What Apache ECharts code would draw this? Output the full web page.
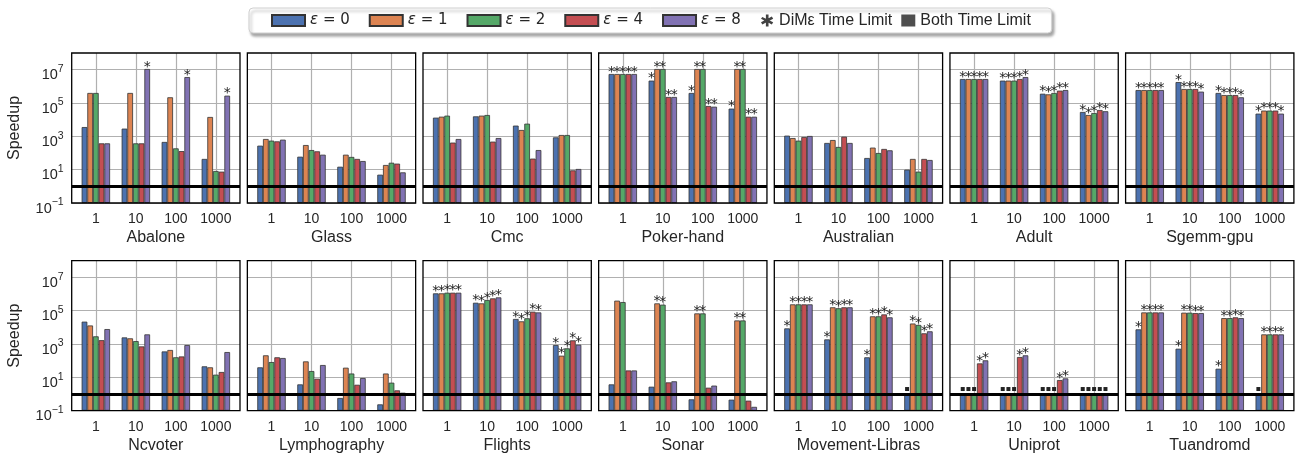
<!DOCTYPE html>
<html><head><meta charset="utf-8">
<script src="https://cdn.jsdelivr.net/npm/echarts@6/dist/echarts.min.js"></script>
<style>html,body{margin:0;padding:0;background:#fff}#c{width:1302px;height:460px}</style>
</head><body><div id="c"></div>
<script>
const categories = ['1', '10', '100', '1000'];
const seriesNames = ['ε = 0', 'ε = 1', 'ε = 2', 'ε = 4', 'ε = 8'];
const seriesColors = ['#4c72b0', '#dd8452', '#55a868', '#c44e52', '#8172b3'];
const datasetNames = ['Abalone', 'Glass', 'Cmc', 'Poker-hand', 'Australian', 'Adult', 'Sgemm-gpu',
  'Ncvoter', 'Lymphography', 'Flights', 'Sonar', 'Movement-Libras', 'Uniprot', 'Tuandromd'];
const yTickExponents = [-1, 1, 3, 5, 7];
const markerNames = ['DiMε Time Limit', 'Both Time Limit'];

// values: one row per epsilon (0,1,2,4,8), one column per category (1,10,100,1000)
const abalone = [[3600, 2900, 460, 44], [4.0e5, 4.0e5, 2.2e5, 1.45e4], [4.0e5, 380, 190, 8.3], [380, 380, 130, 7.6], [380, 1.1e7, 3.6e6, 2.75e5]];
const glass = [[275, 60, 15, 5.0], [690, 300, 79, 19], [550, 150, 58, 26], [500, 126, 44, 23], [630, 79, 33, 6.9]];
const cmc = [[13200, 15800, 4400, 870], [15100, 17400, 2400, 1200], [17400, 19000, 5750, 1200], [420, 480, 46, 9.1], [690, 790, 150, 11]];
const pokerHand = [[5.5e6, 2.2e6, 4.0e5, 4.6e4], [5.5e6, 1.1e7, 1.1e7, 1.1e7], [5.5e6, 1.1e7, 1.1e7, 1.1e7], [5.5e6, 2.3e5, 6.6e4, 1.5e4], [5.5e6, 2.3e5, 6.0e4, 1.5e4]];
const australian = [[1100, 400, 50, 10], [790, 600, 210, 44], [550, 230, 100, 7.6], [910, 950, 175, 44], [1050, 400, 145, 38]];
const adult = [[2.75e6, 2.2e6, 3.6e5, 2.9e4], [2.75e6, 2.2e6, 3.3e5, 1.9e4], [2.75e6, 2.2e6, 4.0e5, 2.5e4], [2.75e6, 2.75e6, 5.5e5, 3.8e4], [2.75e6, 3.6e6, 6.0e5, 3.2e4]];
const sgemmGpu = [[6.0e5, 1.8e6, 4.0e5, 2.3e4], [6.0e5, 6.9e5, 3.0e5, 3.5e4], [6.0e5, 6.9e5, 3.0e5, 3.5e4], [6.0e5, 6.9e5, 3.0e5, 3.5e4], [6.0e5, 4.8e5, 2.2e5, 2.3e4]];
const ncvoter = [[2.2e4, 2500, 360, 46], [1.3e4, 2200, 440, 40], [2900, 1500, 160, 14.5], [1700, 720, 180, 21], [7900, 3800, 870, 330]];
const lymphography = [[40, 3.8, 0.58, 0.24], [210, 91, 38, 17], [83, 24, 17, 4.8], [160, 8.3, 3.6, 1.66], [145, 55, 9.1, 1.2]];
const flights = [[1.1e6, 3.0e5, 3.2e4, 870], [1.1e6, 2.75e5, 2.3e4, 200], [1.2e6, 4.4e5, 3.5e4, 550], [1.2e6, 5.5e5, 8.7e4, 1660], [1.2e6, 6.3e5, 7.9e4, 910]];
const sonar = [[3.8, 2.75, 0.48, 0.46], [4.0e5, 2.75e5, 6.9e4, 2.6e4], [3.3e5, 2.3e5, 6.9e4, 2.6e4], [26, 5.0, 2.4, 0.4], [26, 5.8, 3.2, 0.17]];
const movementLibras = [[8700, 1900, 160, 1], [2.4e5, 1.6e5, 4.6e4, 1.7e4], [2.4e5, 1.4e5, 4.6e4, 1.4e4], [2.4e5, 1.6e5, 6.0e4, 4400], [2.4e5, 1.6e5, 4.0e4, 5800]];
const uniprot = [[1, 1, 1, 1], [1, 1, 1, 1], [1, 1, 1, 1], [69, 166, 6.9, 1], [105, 210, 8.7, 1]];
const tuandromd = [[7600, 525, 33, 1], [7.9e4, 7.6e4, 3.6e4, 3800], [7.9e4, 7.6e4, 3.6e4, 3800], [7.9e4, 7.2e4, 4.0e4, 3800], [7.9e4, 7.2e4, 3.6e4, 3800]];

// markers: '*' = DiMε time limit, 'b' = both time limit, '-' = none
const abaloneMarks = ['----', '----', '----', '----', '-***'];
const glassMarks = ['----', '----', '----', '----', '----'];
const cmcMarks = ['----', '----', '----', '----', '----'];
const pokerHandMarks = ['****', '****', '****', '****', '****'];
const australianMarks = ['----', '----', '----', '----', '----'];
const adultMarks = ['****', '****', '****', '****', '****'];
const sgemmGpuMarks = ['****', '****', '****', '****', '****'];
const ncvoterMarks = ['----', '----', '----', '----', '----'];
const lymphographyMarks = ['----', '----', '----', '----', '----'];
const flightsMarks = ['****', '****', '****', '****', '****'];
const sonarMarks = ['----', '-***', '-***', '----', '----'];
const movementLibrasMarks = ['***b', '****', '****', '****', '****'];
const uniprotMarks = ['bbbb', 'bbbb', 'bbbb', '***b', '***b'];
const tuandromdMarks = ['***b', '****', '****', '****', '****'];

const panelValues = [abalone, glass, cmc, pokerHand, australian, adult, sgemmGpu, ncvoter, lymphography, flights, sonar, movementLibras, uniprot, tuandromd];
const panelMarks = [abaloneMarks, glassMarks, cmcMarks, pokerHandMarks, australianMarks, adultMarks, sgemmGpuMarks, ncvoterMarks, lymphographyMarks, flightsMarks, sonarMarks, movementLibrasMarks, uniprotMarks, tuandromdMarks];

// ---- layout ----
const LEFT0 = 71.7, PITCH = 175.65, PANEL_W = 168.3, PANEL_H = 150, ROW_TOP = [53, 260.7], INNER_PAD = 4.15;
const TXT = '#262626';
const STAR_PATH = 'path://M39,0L61,0L61,100L39,100Z M9.3,21.3L99.7,63.7L88.7,82.7L-1.7,36.3Z M-1.7,63.7L88.7,17.3L99.7,36.3L9.3,82.7Z';

const markRich = {
  st: { fontSize: 14, fontFamily: 'DejaVu Sans', color: '#222' },
  sq: { width: 4, height: 4, lineHeight: 4, backgroundColor: '#222' }
};
function labelFor(m) {
  if (m === '*') return { show: true, position: 'top', distance: -5, formatter: '{st|*}', rich: markRich };
  if (m === 'b') return { show: true, position: 'top', distance: 3, formatter: '{sq| }', rich: markRich };
  return { show: false };
}

const grid = [], xAxis = [], yAxis = [], series = [];
datasetNames.forEach((name, p) => {
  const row = Math.floor(p / 7), col = p % 7;
  const left = LEFT0 + col * PITCH, top = ROW_TOP[row];
  const gF = 2 * p, gI = 2 * p + 1;
  grid.push({ left: left, top: top, width: PANEL_W, height: PANEL_H, show: true, borderColor: '#000', borderWidth: 1.3, backgroundColor: 'transparent', z: 10 });
  grid.push({ left: left + INNER_PAD, top: top, width: PANEL_W - 2 * INNER_PAD, height: PANEL_H });
  xAxis.push({ gridIndex: gF, type: 'value', min: 0, max: 1, show: false });
  xAxis.push({
    gridIndex: gI, type: 'category', data: categories,
    axisLine: { show: false }, axisTick: { show: false }, splitLine: { show: false },
    axisLabel: { interval: 0, margin: 9, fontSize: 14, fontFamily: 'Liberation Sans', color: TXT },
    name: name, nameLocation: 'middle', nameGap: 27,
    nameTextStyle: { fontSize: 16, fontFamily: 'Liberation Sans', color: TXT }
  });
  const first = col === 0;
  yAxis.push({
    gridIndex: gF, type: 'log', logBase: 10, min: 0.1, max: 1e8, splitNumber: 9,
    axisLine: { show: false }, axisTick: { show: false },
    splitLine: { show: true, lineStyle: { color: ['#b0b0b0', 'rgba(0,0,0,0)'], width: 1.2 } },
    axisLabel: {
      show: first, margin: 8, padding: [7, 0, 0, 0],
      formatter: function (v) {
        const e = Math.round(Math.log10(v));
        if (yTickExponents.indexOf(e) < 0) return '';
        return '{b|10}{s|' + (e < 0 ? '\u2212' + (-e) : e) + '}';
      },
      rich: {
        b: { fontSize: 14.5, fontFamily: 'Liberation Sans', color: TXT, lineHeight: 19, verticalAlign: 'bottom' },
        s: { fontSize: 10.5, fontFamily: 'Liberation Sans', color: TXT, verticalAlign: 'top', lineHeight: 12 }
      }
    },
    name: first ? 'Speedup' : '', nameLocation: 'middle', nameGap: 49, nameRotate: 90,
    nameTextStyle: { fontSize: 16, fontFamily: 'Liberation Sans', color: TXT }
  });
  yAxis.push({ gridIndex: gI, type: 'log', logBase: 10, min: 0.1, max: 1e8, startValue: 0.1, show: false });

  // vertical grid lines at category centres (behind bars)
  series.push({
    type: 'line', xAxisIndex: gI, yAxisIndex: gI, data: [], silent: true,
    markLine: { silent: true, z: 1, symbol: ['none', 'none'], label: { show: false }, animation: false,
      lineStyle: { color: '#b0b0b0', width: 1.2, type: 'solid' },
      data: categories.map(c => ({ xAxis: c })) }
  });
  const vals = panelValues[p], marks = panelMarks[p];
  seriesNames.forEach((sn, s) => {
    series.push({
      type: 'bar', name: sn, xAxisIndex: gI, yAxisIndex: gI, z: 2,
      barGap: '0%', barCategoryGap: '29%',
      itemStyle: { color: seriesColors[s], borderColor: '#333', borderWidth: 0.8 },
      emphasis: { disabled: true },
      data: vals[s].map((v, i) => ({ value: v, label: labelFor(marks[s][i]) }))
    });
  });
  // thick reference line at speedup = 1
  series.push({
    type: 'line', xAxisIndex: gF, yAxisIndex: gF, data: [], silent: true,
    markLine: { silent: true, z: 6, symbol: ['none', 'none'], label: { show: false }, animation: false,
      lineStyle: { color: '#000', width: 3, type: 'solid' }, data: [{ yAxis: 1 }] }
  });
});
// dummy series for the marker legend entries
markerNames.forEach(n => series.push({ type: 'scatter', name: n, xAxisIndex: 0, yAxisIndex: 0, data: [], itemStyle: { color: '#222' } }));

const option = {
  animation: false,
  grid: grid, xAxis: xAxis, yAxis: yAxis, series: series,
  legend: [
    {
      left: 249, top: 8, orient: 'horizontal', selectedMode: false,
      padding: [5, 311, 5, 22], itemWidth: 33, itemHeight: 11, itemGap: 19,
      backgroundColor: '#fff', borderColor: '#cfcfcf', borderWidth: 1, borderRadius: 4,
      shadowColor: 'rgba(0,0,0,0.35)', shadowBlur: 3, shadowOffsetX: 2, shadowOffsetY: 3,
      icon: 'rect', data: seriesNames,
      formatter: n => '{e|ε}' + n.slice(1),
      textStyle: { fontSize: 15, fontFamily: 'DejaVu Sans', color: TXT,
        rich: { e: { fontSize: 15, fontFamily: 'DejaVu Sans', fontStyle: 'italic', color: TXT } } }
    },
    {
      left: 761, top: 12.5, padding: 0, selectedMode: false, z: 20,
      itemWidth: 14, itemHeight: 12, itemGap: 9,
      data: [{ name: markerNames[0], icon: STAR_PATH, itemStyle: { color: '#111', borderWidth: 0 } },
             { name: markerNames[1], icon: 'rect', itemStyle: { color: '#222', borderWidth: 0 } }],
      textStyle: { fontSize: 16, fontFamily: 'Liberation Sans', color: TXT }
    }
  ]
};
const chart = echarts.init(document.getElementById('c'), null, { renderer: 'canvas' });
chart.setOption(option);
</script>
</body></html>
